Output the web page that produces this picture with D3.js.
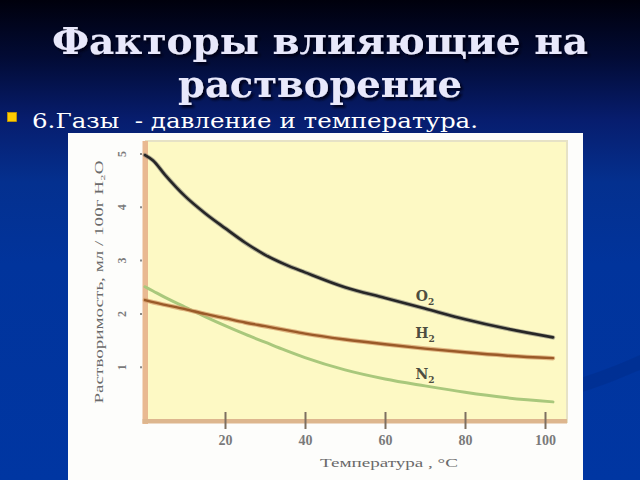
<!DOCTYPE html>
<html>
<head>
<meta charset="utf-8">
<script src="https://cdn.jsdelivr.net/npm/d3@7"></script>
<style>
html,body{margin:0;padding:0;overflow:hidden;background:#00339a;}
svg{display:block;}
</style>
</head>
<body>
<script>
// ---- data ----
const temps = [0, 2, 5, 10, 15, 20, 25, 30, 35, 40, 50, 60, 70, 80, 90, 102];
const o2 = [4.97, 4.87, 4.60, 4.20, 3.88, 3.60, 3.33, 3.10, 2.92, 2.77, 2.49, 2.29, 2.09, 1.89, 1.72, 1.55];
const h2 = [2.25, 2.21, 2.16, 2.08, 1.99, 1.91, 1.83, 1.76, 1.69, 1.62, 1.51, 1.42, 1.34, 1.27, 1.21, 1.16];
const n2 = [2.50, 2.42, 2.30, 2.12, 1.94, 1.77, 1.61, 1.46, 1.31, 1.17, 0.94, 0.77, 0.64, 0.52, 0.42, 0.34];
const xTicks = [20, 40, 60, 80, 100];
const yTicks = [1, 2, 3, 4, 5];
const seriesNames = ["O", "H", "N"];
const titleLines = ["Факторы влияющие на", "растворение"];
const bulletText = "6.Газы  - давление и температура.";
const xTitle = "Температура , °С";
const yTitle = "Растворимость, мл / 100г H₂O";

const W = 640, H = 480;
const svg = d3.select("body").append("svg").attr("width", W).attr("height", H);
const defs = svg.append("defs");

// background gradient
const bg = defs.append("linearGradient").attr("id", "bg").attr("x1", 0).attr("y1", 0).attr("x2", 0).attr("y2", 1);
[[0, "#00000c"], [0.12, "#020b35"], [0.25, "#071d6e"], [0.38, "#04308f"], [0.55, "#01349c"], [1, "#0036a2"]]
  .forEach(([o, c]) => bg.append("stop").attr("offset", o).attr("stop-color", c));
svg.append("rect").attr("width", W).attr("height", H).attr("fill", "url(#bg)");

// decorative darker swoosh on right
svg.append("path")
  .attr("d", "M560,385 C600,372 625,362 640,355 L640,370 C620,378 600,388 560,398 Z")
  .attr("fill", "#002f90").attr("opacity", 0.7);

// shadow filter for title
const f = defs.append("filter").attr("id", "sh").attr("x", -0.1).attr("y", -0.2).attr("width", 1.2).attr("height", 1.4);
f.append("feDropShadow").attr("dx", 2.5).attr("dy", 2.5).attr("stdDeviation", 0.8).attr("flood-color", "#000014").attr("flood-opacity", 0.95);

// title
const titleG = svg.append("g").attr("filter", "url(#sh)");
titleG.append("text").attr("x", 320).attr("y", 54).attr("text-anchor", "middle")
  .attr("font-family", "DejaVu Serif").attr("font-weight", "bold").attr("font-size", 37)
  .attr("fill", "#e8e8fb").attr("textLength", 536).attr("lengthAdjust", "spacingAndGlyphs")
  .text(titleLines[0]);
titleG.append("text").attr("x", 320).attr("y", 97).attr("text-anchor", "middle")
  .attr("font-family", "DejaVu Serif").attr("font-weight", "bold").attr("font-size", 37)
  .attr("fill", "#e8e8fb").attr("textLength", 284).attr("lengthAdjust", "spacingAndGlyphs")
  .text(titleLines[1]);

// bullet
svg.append("rect").attr("x", 7.5).attr("y", 112.5).attr("width", 9).attr("height", 9)
  .attr("fill", "#ffcc00").attr("stroke", "#c89a00").attr("stroke-width", 0.8);
svg.append("text").attr("x", 32).attr("y", 127.5)
  .attr("font-family", "DejaVu Serif").attr("font-size", 20).attr("fill", "#ffffff")
  .attr("textLength", 446).attr("lengthAdjust", "spacingAndGlyphs")
  .style("white-space", "pre").text(bulletText);

// picture box
svg.append("rect").attr("x", 68).attr("y", 133).attr("width", 515).attr("height", 350).attr("fill", "#fdfdfb");

// scales
const x = d3.scaleLinear().domain([0, 100]).range([145, 545]);
const y = d3.scaleLinear().domain([0, 5]).range([420, 153.5]);

// plot area
const px0 = 146, px1 = 567, py0 = 141, py1 = 422;
svg.append("rect").attr("x", px0).attr("y", py0).attr("width", px1 - px0).attr("height", py1 - py0)
  .attr("fill", "#fdf9c4").attr("stroke", "#e6e2c6").attr("stroke-width", 2);
// left axis band
svg.append("rect").attr("x", 142.5).attr("y", py0).attr("width", 5.5).attr("height", py1 - py0 + 2)
  .attr("fill", "#e9b991");
// bottom axis band
svg.append("rect").attr("x", 142.5).attr("y", 419).attr("width", px1 - 142.5).attr("height", 4.5)
  .attr("fill", "#ddb68e");

// y axis
const yAxis = svg.append("g").attr("transform", "translate(142,0)")
  .call(d3.axisLeft(y).tickValues(yTicks).tickSize(8).tickPadding(12).tickFormat(d3.format("d")));
yAxis.select(".domain").remove();
yAxis.selectAll(".tick line").attr("stroke", "#8a8a8a").attr("stroke-width", 2).attr("x2", -2);
yAxis.selectAll(".tick text")
  .attr("font-family", "Liberation Serif").attr("font-weight", "bold").attr("font-size", 12).attr("fill", "#7a7a7a")
  .attr("x", null).attr("text-anchor", "middle").attr("dy", "0.35em")
  .attr("transform", "translate(-20,0) rotate(-90)");

// x axis
const xAxis = svg.append("g").attr("transform", "translate(0,421)")
  .call(d3.axisBottom(x).tickValues(xTicks).tickSize(8).tickPadding(6).tickFormat(d3.format("d")));
xAxis.select(".domain").remove();
xAxis.selectAll(".tick line").attr("stroke", "#7d6f60").attr("stroke-width", 2).attr("y1", -9).attr("y2", 8);
xAxis.selectAll(".tick text")
  .attr("font-family", "Liberation Serif").attr("font-weight", "bold").attr("font-size", 14).attr("fill", "#7a7a7a");

// axis titles
svg.append("text").attr("x", 389).attr("y", 467).attr("text-anchor", "middle")
  .attr("font-family", "Liberation Serif").attr("font-size", 13).attr("fill", "#6a6a6a")
  .attr("textLength", 138).attr("lengthAdjust", "spacingAndGlyphs").text(xTitle);
svg.append("text").attr("transform", "translate(103,282) rotate(-90)").attr("text-anchor", "middle")
  .attr("font-family", "Liberation Serif").attr("font-size", 12.5).attr("fill", "#6a6a6a")
  .attr("textLength", 243).attr("lengthAdjust", "spacingAndGlyphs").text(yTitle);

// curves
const line = d3.line().x((d, i) => x(temps[i])).y(d => y(d)).curve(d3.curveMonotoneX);
svg.append("path").datum(n2).attr("d", line).attr("fill", "none")
  .attr("stroke", "#a9c87c").attr("stroke-width", 3).attr("stroke-linecap", "round");
svg.append("path").datum(h2).attr("d", line).attr("fill", "none")
  .attr("stroke", "#d39a67").attr("stroke-width", 4.5).attr("stroke-linecap", "round").attr("opacity", 0.7);
svg.append("path").datum(h2).attr("d", line).attr("fill", "none")
  .attr("stroke", "#9a5a28").attr("stroke-width", 2.4).attr("stroke-linecap", "round");
svg.append("path").datum(o2).attr("d", line).attr("fill", "none")
  .attr("stroke", "#6a6a66").attr("stroke-width", 4.5).attr("stroke-linecap", "round").attr("opacity", 0.5);
svg.append("path").datum(o2).attr("d", line).attr("fill", "none")
  .attr("stroke", "#262626").attr("stroke-width", 2.6).attr("stroke-linecap", "round");

// series labels
const labelPos = [[70, 2.23], [70, 1.54], [70, 0.77]];
seriesNames.forEach((n, i) => {
  const t = svg.append("text").attr("x", x(labelPos[i][0])).attr("y", y(labelPos[i][1]))
    .attr("text-anchor", "middle").attr("font-family", "DejaVu Serif").attr("font-weight", "bold")
    .attr("font-size", 14).attr("fill", "#4d4d40");
  t.append("tspan").text(n);
  t.append("tspan").attr("font-size", 9).attr("dy", 4).text("2");
});
</script>
</body>
</html>
